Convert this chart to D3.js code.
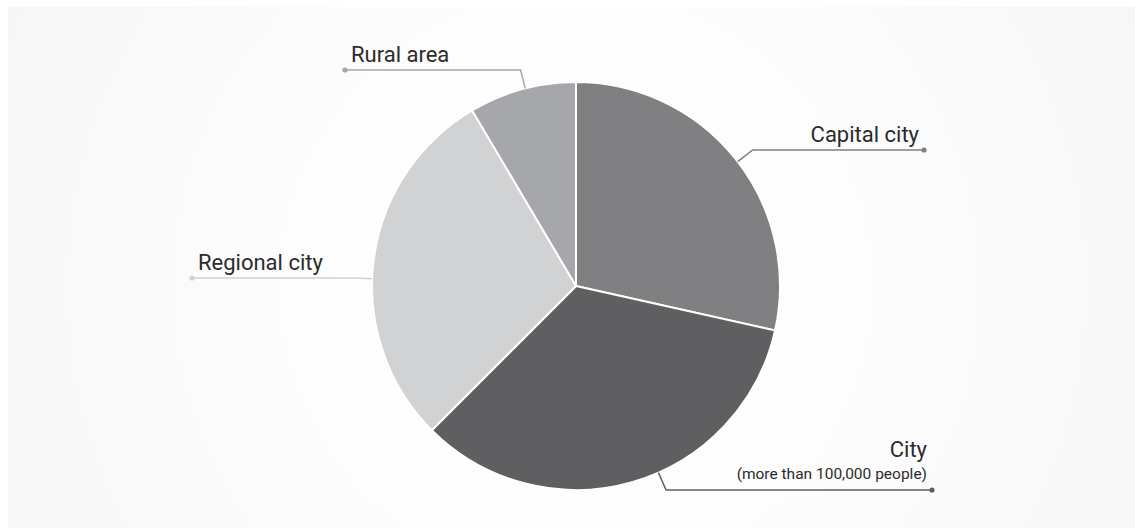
<!DOCTYPE html>
<html>
<head>
<meta charset="utf-8">
<script src="https://cdn.jsdelivr.net/npm/d3@7"></script>
<style>
  body { margin: 0; background: #fff; }
  text { font-family: Roboto, "Noto Sans", sans-serif; fill: #2b2b2b; }
</style>
</head>
<body>
<div id="d3-container"></div>
<script>
/**
 * DATA
 * */
const categories = ["Capital city", "City", "Regional city", "Rural area"];
const values = [28.5, 34, 29, 8.5];
const subLabels = ["", "(more than 100,000 people)", "", ""];
const colors = ["#808083", "#5f5f62", "#d1d2d4", "#a6a7aa"];

/**
 * CONSTANTS
 * */
const width = 1135,
  height = 528,
  cx = 576,
  cy = 286,
  radius = 204;

// where each label's horizontal leader sits: [line y, dot x, side]
const labelLayout = [
  { y: 150, dotX: 924, side: 1 },
  { y: 490, dotX: 932, side: 1 },
  { y: 278, dotX: 192, side: -1 },
  { y: 70, dotX: 345, side: -1 },
];

const svg = d3
  .select("#d3-container")
  .append("svg")
  .attr("width", width)
  .attr("height", height);

// background panel with soft radial glow
const grad = svg.append("defs")
  .append("radialGradient")
  .attr("id", "bg")
  .attr("gradientUnits", "userSpaceOnUse")
  .attr("cx", cx).attr("cy", cy).attr("r", 620);
grad.append("stop").attr("offset", "0%").attr("stop-color", "#ffffff");
grad.append("stop").attr("offset", "45%").attr("stop-color", "#fdfdfd");
grad.append("stop").attr("offset", "100%").attr("stop-color", "#f7f7f7");

svg.append("rect")
  .attr("x", 8).attr("y", 7)
  .attr("width", width - 8).attr("height", height - 7)
  .attr("fill", "url(#bg)");

const data = categories.map((c, i) => ({
  name: c, value: values[i], sub: subLabels[i], color: colors[i], layout: labelLayout[i]
}));

const pie = d3.pie().sort(null).value(d => d.value);
const arc = d3.arc().innerRadius(0).outerRadius(radius);
const arcs = pie(data);

const g = svg.append("g").attr("transform", `translate(${cx},${cy})`);

g.selectAll("path.slice")
  .data(arcs)
  .join("path")
  .attr("class", "slice")
  .attr("d", arc)
  .attr("fill", d => d.data.color)
  .attr("stroke", "#fff")
  .attr("stroke-width", 2)
  .attr("stroke-linejoin", "round");

// leader lines: elbow sits on a slightly bigger circle at the label's y
const elbowR = radius + 19;
arcs.forEach(d => {
  const L = d.data.layout;
  const ly = L.y - cy;
  const ex = L.side * Math.sqrt(Math.max(0, elbowR * elbowR - ly * ly));
  const ang = Math.atan2(ly, ex);
  const sx = radius * Math.cos(ang), sy = radius * Math.sin(ang);
  const pts = [[sx, sy], [ex, ly], [L.dotX - cx, ly]];

  g.append("path")
    .attr("d", d3.line()(pts))
    .attr("fill", "none")
    .attr("stroke", d.data.color)
    .attr("stroke-width", 1.5);

  g.append("circle")
    .attr("cx", L.dotX - cx).attr("cy", ly)
    .attr("r", 2.6)
    .attr("fill", d.data.color);

  const right = L.side > 0;
  const tx = right ? L.dotX - cx - 5 : L.dotX - cx + 6;
  const anchor = right ? "end" : "start";
  if (d.data.sub) {
    g.append("text")
      .attr("x", tx).attr("y", ly - 33)
      .attr("text-anchor", anchor)
      .style("font-size", "22px")
      .text(d.data.name);
    g.append("text")
      .attr("x", tx).attr("y", ly - 11)
      .attr("text-anchor", anchor)
      .style("font-size", "15.5px")
      .text(d.data.sub);
  } else {
    g.append("text")
      .attr("x", tx).attr("y", ly - 8)
      .attr("text-anchor", anchor)
      .style("font-size", "22px")
      .text(d.data.name);
  }
});
</script>
</body>
</html>
